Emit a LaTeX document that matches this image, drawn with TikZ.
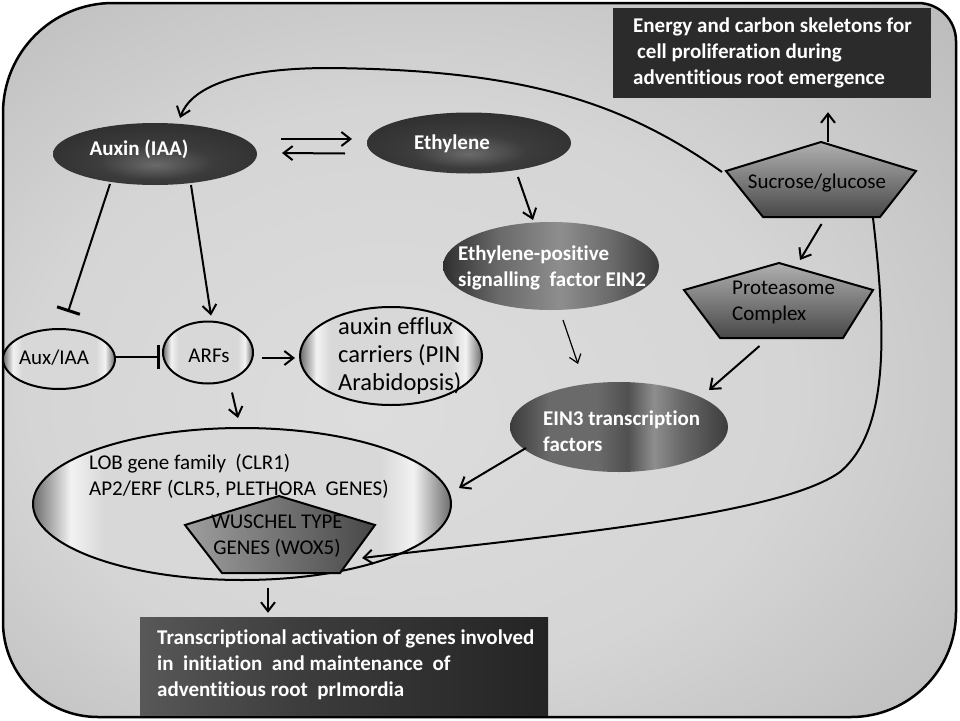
\documentclass[tikz,border=0pt]{standalone}
\usepackage{fontspec}
\setmainfont{Carlito}[Ligatures=CommonOff]
\usetikzlibrary{shapes.geometric,arrows.meta,calc}
\definecolor{bgin}{HTML}{DDDDDD}
\definecolor{bgmid}{HTML}{D5D5D5}
\definecolor{bgout}{HTML}{BDBDBD}
\definecolor{eg}{HTML}{6C6C6C}
\definecolor{el}{HTML}{F2F2F2}
\definecolor{em}{HTML}{D8D8D8}
\definecolor{boxdark}{HTML}{2B2B2B}
\definecolor{tl}{HTML}{585858}
\definecolor{tr}{HTML}{242424}
\definecolor{dk1}{HTML}{2F2F2F}
\definecolor{dk2}{HTML}{3C3C3C}
\definecolor{dk3}{HTML}{6A6A6A}
\definecolor{dk4}{HTML}{8E8E8E}
\definecolor{dk5}{HTML}{505050}
\definecolor{pt}{HTML}{B0B0B0}
\definecolor{pb}{HTML}{484848}
\pgfdeclareradialshading{darkball}{\pgfpoint{0bp}{-9bp}}{color(0bp)=(dk3); color(14bp)=(dk2); color(30bp)=(dk1); color(50bp)=(dk1)}
\pgfdeclarehorizontalshading{eintwo}{100bp}{color(0bp)=(dk1); color(25bp)=(dk1); color(38bp)=(dk3); color(52bp)=(dk4); color(64bp)=(dk3); color(75bp)=(dk2); color(100bp)=(dk2)}
\pgfdeclarehorizontalshading{einthree}{100bp}{color(0bp)=(dk2); color(25bp)=(dk2); color(34bp)=(dk3); color(45bp)=(dk3); color(52bp)=(dk5); color(58bp)=(dk4); color(64bp)=(dk3); color(75bp)=(dk2); color(100bp)=(dk2)}
\pgfdeclarehorizontalshading{edgelight}{100bp}{color(0bp)=(eg); color(25bp)=(eg); color(29.5bp)=(el); color(33.5bp)=(em); color(66.5bp)=(em); color(70.5bp)=(el); color(75bp)=(eg); color(100bp)=(eg)}
\pgfdeclareradialshading{bgshade}{\pgfpoint{-6bp}{-4bp}}{color(0bp)=(bgin); color(20bp)=(bgmid); color(36bp)=(bgout); color(50bp)=(bgout)}
\pgfdeclarehorizontalshading{transshade}{100bp}{color(0bp)=(tl); color(25bp)=(tl); color(45bp)=(dk2); color(75bp)=(tr); color(100bp)=(tr)}
\begin{document}
\begin{tikzpicture}[x=1pt,y=-1pt,
  wtxt/.style={text=white, font=\bfseries\fontsize{21}{26}\selectfont, inner sep=0pt},
  btxt/.style={text=black, font=\fontsize{21}{26}\selectfont, inner sep=0pt},
  bigtxt/.style={text=black, font=\fontsize{24.5}{28}\selectfont, inner sep=0pt},
  lightell/.style={ellipse, draw=black, line width=2pt, shade, shading=edgelight, inner sep=0pt},
  darkell/.style={ellipse, draw=none, shade, shading=darkball, inner sep=0pt},
  penta/.style={draw=black, line width=2pt, shade, top color=pt, bottom color=pb},
  arr/.style={-{Straight Barb[length=9pt,width=14pt]}, line width=2pt},
  thinarr/.style={-{Straight Barb[length=8pt,width=12pt]}, line width=1.2pt},
  inh/.style={-{Bar[width=24pt,line width=3pt]}, line width=2pt}]
\useasboundingbox (0,0) rectangle (960,720);
% background frame
\path[shade, shading=bgshade, draw=black, line width=2.5pt]
  (3,400) [rounded corners=110pt] -- (3,3) [rounded corners=38pt] -- (956,3)
  [rounded corners=105pt] -- (956,717) [rounded corners=95pt] -- (3,717) -- cycle;
% boxes
\node[fill=boxdark, minimum width=318pt, minimum height=90pt, inner sep=0pt] (energy) at (772,53) {};
\node[shade, shading=transshade, minimum width=408pt, minimum height=98pt, inner sep=0pt] (trans) at (344,666) {};
% dark ellipses
\node[darkell, minimum width=204pt, minimum height=62pt] (auxin) at (155,154) {};
\node[darkell, minimum width=204pt, minimum height=61pt] (ethylene) at (469,143) {};
\node[ellipse, shade, shading=eintwo, inner sep=0pt, minimum width=216pt, minimum height=88pt] (ein2) at (551,266) {};
\node[ellipse, shade, shading=einthree, inner sep=0pt, minimum width=218pt, minimum height=90pt] (ein3) at (619,427) {};
% light ellipses
\node[lightell, minimum width=112pt, minimum height=60pt] (auxiaa) at (59,359) {};
\node[lightell, minimum width=90pt, minimum height=62pt] (arfs) at (208,352.5) {};
\node[lightell, minimum width=182pt, minimum height=98pt] (efflux) at (391,356) {};
\node[lightell, minimum width=418pt, minimum height=152pt] (lob) at (242,504) {};
% pentagons
\coordinate (sucT) at (821,142); \coordinate (sucR) at (916,171); \coordinate (sucBR) at (880,217);
\coordinate (sucBL) at (763,217); \coordinate (sucL) at (726,171);
\coordinate (sucB) at ($(sucBL)!0.5!(sucBR)$);
\path[penta] (sucT) -- (sucR) -- (sucBR) -- (sucBL) -- (sucL) -- cycle;
\coordinate (proT) at (779,263); \coordinate (proR) at (873,290); \coordinate (proBR) at (843,338);
\coordinate (proBL) at (720,338); \coordinate (proL) at (684,290);
\coordinate (proB) at ($(proBL)!0.5!(proBR)$);
\path[penta] (proT) -- (proR) -- (proBR) -- (proBL) -- (proL) -- cycle;
\coordinate (wusT) at (279,496); \coordinate (wusR) at (375,525); \coordinate (wusBR) at (340,573);
\coordinate (wusBL) at (222,573); \coordinate (wusL) at (185,525);
\path[draw=black, line width=2pt, shade, left color=pt!90!black, right color=pb] (wusT) -- (wusR) -- (wusBR) -- (wusBL) -- (wusL) -- cycle;
% labels
\node[wtxt] (auxinlbl) at (139,149) {Auxin (IAA)};
\node[wtxt, anchor=west] (ethlbl) at (414,144) {Ethylene};
\node[wtxt, anchor=west, align=left] (ein2lbl) at (458,268) {Ethylene-positive\\signalling\ \ factor EIN2};
\node[wtxt, anchor=west, align=left] (ein3lbl) at (543,431) {EIN3 transcription\\factors};
\node[btxt] (auxiaalbl) at (54,358) {Aux/IAA};
\node[btxt] (arfslbl) at (209,356) {ARFs};
\node[bigtxt, anchor=west, align=left] (effluxlbl) at (338,356) {auxin efflux\\carriers (PIN\\Arabidopsis)};
\node[btxt, anchor=west, align=left] (loblbl) at (89,476) {LOB gene family\ \ (CLR1)\\AP2/ERF (CLR5, PLETHORA\ \ GENES)};
\node[btxt, align=center] (wuslbl) at (277,536) {WUSCHEL TYPE\\GENES (WOX5)};
\node[btxt] (suclbl) at (817,183) {Sucrose/glucose};
\node[btxt, anchor=west, align=left] (prolbl) at (732,302) {Proteasome\\Complex};
\node[wtxt, anchor=west, align=left] (energylbl) at (633,53) {Energy and carbon skeletons for\\\hspace*{4pt}cell proliferation during\\adventitious root emergence};
\node[wtxt, anchor=west, align=left] (translbl) at (157,665) {Transcriptional activation of genes involved\\in\ \ initiation\ \ and maintenance\ \ of\\adventitious root\ \ prImordia};
% connectors
\draw[inh] ($(auxin.center)+(-45,30)$) -- ($(auxiaa.center)+(9,-47)$);
\draw[arr] ($(auxin.center)+(36,31)$) -- ($(arfs.center)+(3,-37)$);
\draw[inh] ($(auxiaa.center)+(56,-2)$) -- ($(arfs.center)+(-48,4.5)$);
\draw[arr] ($(arfs.center)+(54,5.5)$) -- ($(efflux.center)+(-96,2)$);
\draw[arr] ($(arfs.center)+(24,40)$) -- ($(lob.center)+(-4,-86)$);
\draw[arr] ($(auxin.center)+(126,-15)$) -- ($(ethylene.center)+(-117,-4)$);
\draw[arr] ($(ethylene.center)+(-124,10.5)$) -- ($(auxin.center)+(127,-1)$);
\draw[arr] ($(ethylene.center)+(49,34)$) -- ($(ein2.center)+(-18,-46)$);
\draw[thinarr] ($(ein2.center)+(12,54)$) -- ($(ein3.center)+(-41,-63)$);
\draw[arr] ($(sucT)+(7,0)$) -- ($(energy.south)+(56,14)$);
\draw[arr] ($(sucB)+(0,7)$) -- ($(proT)+(21,-3)$);
\draw[arr] ($(proB)+(-22,8)$) -- ($(ein3.center)+(90,-37)$);
\draw[arr] ($(ein3.center)+(-93,21)$) -- ($(lob.center)+(217,-16)$);
\draw[arr] ($(sucL)+(-4,1)$) .. controls (620,100) and (520,70) .. (330,68)
  .. controls (230,68) and (190,90) .. ($(auxin.center)+(25,-36)$);
\draw[arr] ($(sucBR)+(-7,1)$) .. controls (886,330) and (890,430) .. (840,472)
  .. controls (780,515) and (560,535) .. ($(wusR)+(-13,33)$);
\draw[arr] ($(lob.center)+(26,84)$) -- ($(trans.north)+(-76,-4)$);
\end{tikzpicture}
\end{document}
